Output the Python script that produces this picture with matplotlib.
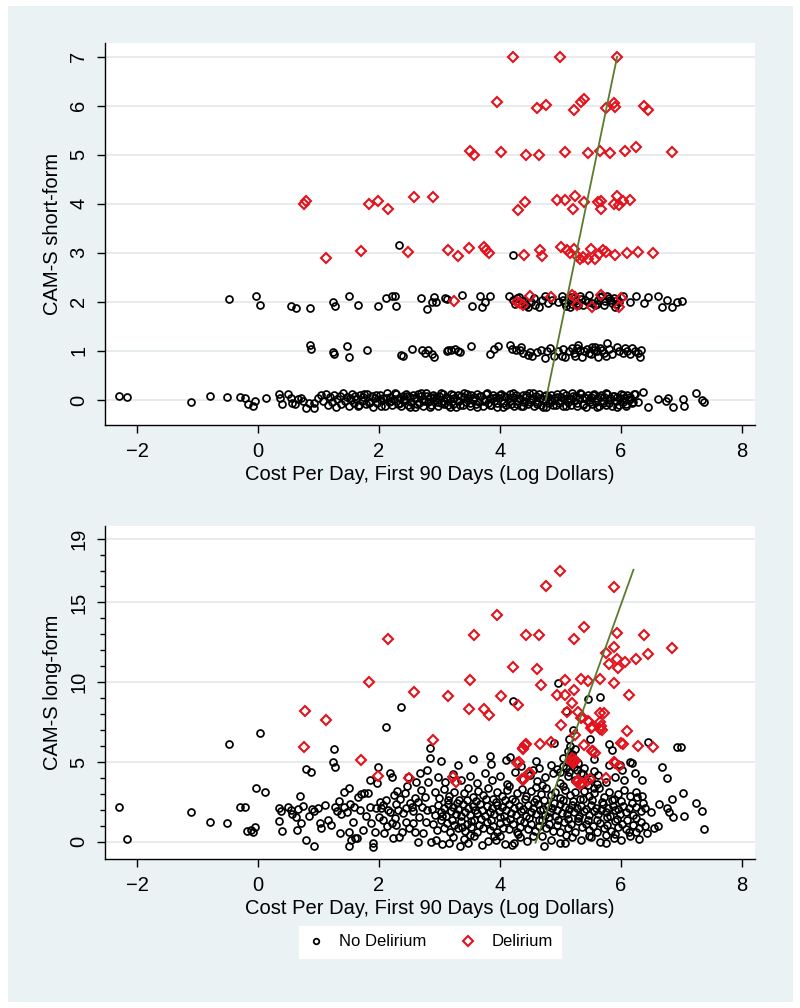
import numpy as np
import matplotlib.pyplot as plt
from matplotlib.lines import Line2D

plt.rcParams['font.family'] = ['Liberation Sans', 'DejaVu Sans']

BG = '#eaf2f3'
GRID = '#e4ebed'
RED = '#e3121c'
GREEN = '#5b7b2f'

# ---- top panel: CAM-S short-form, no delirium (x = log cost, y = jittered score)
top_nodel_row0 = [
    (-2.30, 0.08), (-2.16, 0.07), (-1.10, -0.05), (-0.79, 0.09), (-0.51, 0.07),
    (-0.30, 0.07), (-0.22, 0.05), (-0.17, -0.09), (-0.09, -0.12), (-0.05, -0.03),
    (0.13, 0.03), (0.34, 0.12), (0.37, 0.05), (0.39, -0.09), (0.50, 0.12),
    (0.54, 0.05), (0.56, -0.07), (0.62, -0.09), (0.66, 0.01), (0.71, 0.05),
    (0.74, -0.03), (0.80, -0.16), (0.85, -0.07), (0.92, -0.16), (0.93, -0.07),
    (0.99, 0.03), (1.04, 0.10), (1.08, -0.02), (1.12, 0.13), (1.15, -0.11),
    (1.19, 0.06), (1.22, -0.05), (1.26, 0.11), (1.29, -0.14), (1.31, 0.02),
    (1.35, 0.09), (1.38, -0.08), (1.41, 0.14), (1.44, -0.03), (1.47, 0.07),
    (1.50, -0.13), (1.52, 0.04), (1.56, 0.12), (1.59, -0.06), (1.62, 0.01),
    (1.66, -0.12), (1.69, 0.10), (1.72, -0.02), (1.74, 0.06), (1.78, -0.09),
    (1.81, 0.13), (1.85, -0.04), (1.88, 0.08), (1.91, -0.14), (1.93, 0.03),
    (1.97, -0.07), (2.01, 0.11), (2.04, -0.01), (2.06, 0.05), (2.10, -0.12),
    (2.13, 0.14), (2.16, -0.05), (2.19, 0.07), (2.22, -0.10), (2.25, 0.02),
    (2.28, 0.12), (2.31, -0.08), (2.33, 0.04), (2.37, -0.13), (2.40, 0.09),
    (2.42, -0.02), (2.45, 0.13), (2.48, -0.11), (2.51, 0.06), (2.53, -0.04),
    (2.56, 0.10), (2.59, -0.14), (2.62, 0.03), (2.64, 0.12), (2.67, -0.07),
    (2.70, 0.08), (2.73, -0.12), (2.75, 0.01), (2.78, 0.14), (2.81, -0.05),
    (2.84, 0.06), (2.86, -0.10), (2.89, 0.11), (2.92, -0.01), (2.95, 0.04),
    (2.97, -0.13), (3.00, 0.09), (3.03, -0.06), (3.06, 0.13), (3.08, -0.03),
    (3.11, 0.07), (3.14, -0.11), (3.17, 0.02), (3.19, 0.12), (3.22, -0.08),
    (3.25, 0.05), (3.28, -0.14), (3.30, 0.10), (3.33, -0.02), (3.36, 0.08),
    (3.39, -0.10), (3.41, 0.14), (3.44, -0.05), (3.47, 0.03), (3.50, -0.12),
    (3.52, 0.11), (3.55, -0.01), (3.58, 0.06), (3.61, -0.09), (3.63, 0.13),
    (3.66, -0.04), (3.69, 0.09), (3.72, -0.13), (3.74, 0.02), (3.77, 0.12),
    (3.80, -0.07), (3.83, 0.05), (3.85, -0.11), (3.88, 0.10), (3.91, -0.02),
    (3.94, 0.07), (3.96, -0.14), (3.99, 0.03), (4.02, 0.13), (4.05, -0.06),
    (4.07, 0.08), (4.10, -0.10), (4.13, 0.01), (4.16, 0.12), (4.18, -0.08),
    (4.21, 0.06), (4.24, -0.12), (4.27, 0.10), (4.29, -0.03), (4.32, 0.04),
    (4.35, -0.13), (4.38, 0.11), (4.40, -0.05), (4.43, 0.07), (4.46, -0.09),
    (4.49, 0.14), (4.51, -0.01), (4.54, 0.05), (4.57, -0.12), (4.60, 0.09),
    (4.62, -0.04), (4.65, 0.12), (4.68, -0.10), (4.71, 0.02), (4.73, 0.08),
    (4.76, -0.14), (4.79, 0.06), (4.82, -0.06), (4.84, 0.11), (4.87, -0.02),
    (4.90, 0.04), (4.93, -0.11), (4.95, 0.13), (4.98, -0.07), (5.01, 0.07),
    (5.04, -0.13), (5.06, 0.02), (5.09, 0.10), (5.12, -0.05), (5.15, 0.05),
    (5.17, -0.10), (5.20, 0.14), (5.23, -0.03), (5.26, 0.08), (5.28, -0.12),
    (5.31, 0.03), (5.34, 0.12), (5.37, -0.08), (5.39, 0.06), (5.42, -0.14),
    (5.45, 0.10), (5.48, -0.01), (5.50, 0.07), (5.53, -0.09), (5.56, 0.13),
    (5.59, -0.05), (5.61, 0.04), (5.64, -0.12), (5.67, 0.11), (5.70, -0.02),
    (5.72, 0.06), (5.75, -0.10), (5.78, 0.12), (5.81, -0.06), (5.83, 0.03),
    (5.86, -0.13), (5.89, 0.09), (5.92, -0.03), (5.94, 0.07), (5.97, -0.11),
    (6.00, 0.13), (6.03, -0.04), (6.05, 0.05), (6.08, -0.09), (6.11, 0.10),
    (6.14, -0.01), (6.16, 0.06), (6.19, -0.07), (6.22, 0.12), (6.24, 0.12),
    (6.28, -0.05), (6.37, 0.16), (6.45, -0.15), (6.62, 0.01), (6.74, -0.03),
    (6.78, 0.05), (6.86, -0.14), (7.03, 0.02), (7.04, -0.12), (7.25, 0.15),
    (7.35, 0.00), (7.38, -0.05),
    (1.54, -0.01), (1.60, 0.09), (1.67, -0.10), (1.76, 0.12), (1.83, -0.06),
    (1.95, 0.10), (2.03, -0.13), (2.12, 0.04), (2.20, -0.03), (2.27, 0.15),
    (2.35, -0.06), (2.41, 0.01), (2.47, 0.08), (2.52, -0.15), (2.58, 0.04),
    (2.63, -0.09), (2.69, 0.14), (2.74, -0.02), (2.80, 0.09), (2.85, -0.15),
    (2.91, 0.07), (2.96, -0.04), (3.02, 0.15), (3.07, -0.09), (3.12, 0.03),
    (3.18, -0.14), (3.23, 0.10), (3.29, 0.00), (3.34, -0.10), (3.40, 0.06),
    (3.45, 0.13), (3.51, -0.06), (3.56, 0.02), (3.62, -0.15), (3.67, 0.08),
    (3.73, -0.02), (3.78, 0.15), (3.84, -0.10), (3.89, 0.04), (3.95, -0.07),
    (4.00, 0.11), (4.06, -0.15), (4.11, 0.06), (4.17, -0.03), (4.22, 0.14),
    (4.28, -0.09), (4.33, 0.01), (4.39, -0.12), (4.44, 0.10), (4.50, -0.04),
    (4.55, 0.15), (4.61, -0.08), (4.66, 0.03), (4.72, -0.15), (4.77, 0.11),
    (4.83, 0.00), (4.88, -0.10), (4.94, 0.07), (4.99, -0.03), (5.05, 0.14),
    (5.10, -0.12), (5.16, 0.01), (5.21, 0.09), (5.27, -0.07), (5.32, 0.15),
    (5.38, -0.11), (5.43, 0.04), (5.49, -0.05), (5.54, 0.11), (5.60, -0.15),
    (5.65, 0.06), (5.71, -0.07), (5.76, 0.15), (5.82, -0.01), (5.87, 0.08),
    (5.93, -0.14), (5.98, 0.03), (6.04, 0.10), (6.09, -0.13), (6.15, 0.02),
    (6.20, -0.04),
]
top_nodel_row1 = [
    (0.86, 1.12), (0.88, 1.04), (1.24, 0.97), (1.26, 0.94), (1.48, 1.11),
    (1.50, 0.88), (1.80, 1.02), (2.37, 0.92), (2.40, 0.90), (2.54, 1.04),
    (2.72, 1.02), (2.76, 0.95), (2.82, 1.01), (2.87, 0.94), (2.91, 0.88),
    (3.13, 1.00), (3.15, 1.02), (3.19, 1.02), (3.26, 1.04), (3.31, 0.99),
    (3.34, 0.97), (3.53, 1.10), (3.83, 0.94), (3.91, 1.04), (3.97, 1.10),
    (4.16, 1.12), (4.20, 1.04), (4.26, 1.02), (4.33, 1.02), (4.35, 1.07),
    (4.39, 0.95), (4.47, 0.92), (4.50, 0.97), (4.54, 0.90), (4.61, 0.97),
    (4.68, 1.02), (4.74, 0.85), (4.78, 1.00), (4.83, 1.05), (4.89, 0.90),
    (4.97, 0.99), (5.02, 0.90), (5.05, 1.04), (5.08, 0.87), (5.14, 0.99),
    (5.19, 1.05), (5.22, 0.95), (5.25, 0.90), (5.27, 1.06), (5.30, 1.12),
    (5.33, 1.02), (5.36, 0.87), (5.40, 0.99), (5.44, 1.04), (5.47, 0.95),
    (5.50, 0.93), (5.52, 1.09), (5.55, 1.01), (5.57, 1.07), (5.60, 0.99),
    (5.63, 0.87), (5.66, 1.06), (5.69, 1.02), (5.72, 0.96), (5.75, 0.90),
    (5.77, 1.16), (5.80, 1.03), (5.86, 0.93), (5.94, 1.09), (5.97, 0.99),
    (6.03, 0.95), (6.07, 1.06), (6.10, 0.99), (6.15, 0.93), (6.19, 1.05),
    (6.24, 0.99), (6.29, 0.95), (6.32, 0.87), (6.34, 1.02),
]
top_nodel_row2 = [
    (-0.48, 2.05), (-0.03, 2.12), (0.04, 1.94), (0.55, 1.92), (0.63, 1.88),
    (0.86, 1.88), (1.24, 2.00), (1.28, 1.91), (1.51, 2.12), (1.66, 1.93),
    (1.98, 1.91), (2.11, 2.08), (2.21, 2.12), (2.26, 2.12), (2.28, 1.92),
    (2.69, 2.07), (2.79, 1.85), (2.87, 1.99), (2.91, 2.10), (2.95, 1.99),
    (3.10, 2.08), (3.13, 2.05), (3.38, 2.14), (3.54, 1.92), (3.68, 2.12),
    (3.70, 1.89), (3.76, 1.99), (3.84, 2.12), (4.15, 2.11), (4.21, 2.03),
    (4.25, 1.95), (4.28, 2.07), (4.32, 2.09), (4.36, 2.01), (4.40, 2.02),
    (4.42, 1.94), (4.44, 1.93), (4.47, 1.90), (4.52, 2.00), (4.56, 2.07),
    (4.58, 1.94), (4.64, 1.90), (4.69, 2.04), (4.75, 2.11), (4.80, 1.97),
    (4.86, 2.04), (4.97, 1.99), (5.02, 2.11), (5.05, 2.03), (5.08, 1.97),
    (5.10, 1.92), (5.14, 2.04), (5.16, 1.90), (5.18, 2.10), (5.20, 1.96),
    (5.22, 2.07), (5.24, 2.01), (5.27, 1.97), (5.30, 1.93), (5.33, 2.11),
    (5.35, 2.05), (5.38, 1.94), (5.41, 2.04), (5.45, 1.99), (5.48, 2.14),
    (5.52, 1.97), (5.58, 1.94), (5.60, 1.95), (5.63, 2.04), (5.66, 2.10),
    (5.69, 2.11), (5.72, 1.94), (5.74, 2.01), (5.78, 2.12), (5.80, 2.07),
    (5.83, 2.03), (5.85, 1.97), (5.88, 2.08), (5.91, 1.90), (5.92, 1.95),
    (5.94, 2.04), (5.97, 2.00), (6.03, 2.11), (6.16, 1.99), (6.26, 2.12),
    (6.38, 1.97), (6.45, 2.10), (6.62, 2.12), (6.68, 1.89), (6.77, 2.03),
    (6.85, 1.89), (6.93, 1.99), (7.01, 2.01),
]
top_nodel_row3 = [(2.34, 3.16), (4.21, 2.95)]

# ---- top panel: delirium
top_del = [
    (4.21, 6.99), (5.00, 6.99), (5.94, 7.00),
    (3.95, 6.08), (4.62, 5.95), (4.77, 6.02), (5.22, 5.92), (5.34, 6.08),
    (5.40, 6.14), (5.75, 5.96), (5.89, 6.06), (5.90, 5.98), (6.39, 6.00),
    (6.45, 5.92),
    (3.51, 5.07), (3.57, 4.99), (4.02, 5.05), (4.43, 4.99), (4.65, 4.99),
    (5.08, 5.06), (5.46, 5.03), (5.66, 5.07), (5.82, 5.04), (6.07, 5.08),
    (6.25, 5.15), (6.85, 5.05),
    (0.76, 4.00), (0.80, 4.06), (1.84, 4.00), (1.99, 4.06), (2.15, 3.90),
    (2.58, 4.13), (2.90, 4.13), (4.30, 3.88), (4.41, 4.03), (4.95, 4.07),
    (5.07, 4.07), (5.24, 4.15), (5.21, 3.89), (5.40, 4.03), (5.63, 4.03),
    (5.68, 4.06), (5.67, 3.90), (5.89, 4.00), (5.94, 4.15), (5.97, 3.97),
    (6.03, 4.06), (6.15, 4.08),
    (1.12, 2.89), (1.70, 3.04), (2.48, 3.01), (3.14, 3.05), (3.31, 2.94),
    (3.49, 3.10), (3.73, 3.12), (3.77, 3.05), (3.82, 2.99), (4.40, 2.95),
    (4.66, 3.06), (4.69, 2.94), (5.01, 3.12), (5.11, 3.06), (5.16, 2.99),
    (5.22, 3.07), (5.27, 2.94), (5.33, 2.88), (5.38, 2.92), (5.45, 2.87),
    (5.51, 3.07), (5.57, 2.88), (5.64, 2.98), (5.70, 3.05), (5.75, 3.01),
    (5.90, 2.96), (6.10, 2.99), (6.28, 3.01), (6.53, 2.99),
    (3.24, 2.01), (4.28, 2.00), (4.33, 1.97), (4.39, 1.94), (4.50, 2.12),
    (4.84, 2.10), (5.19, 2.15), (5.28, 1.93), (5.25, 2.09), (5.53, 1.90),
    (5.67, 2.14), (6.00, 2.08), (5.97, 1.90),
]
top_fit_x = [4.76, 5.94]
top_fit_y = [0.0, 7.0]

# ---- bottom panel: CAM-S long-form, no delirium
bot_nodel = [
    (-2.30, 2.21), (-2.16, 0.17), (-1.10, 1.86), (-0.79, 1.25), (-0.51, 1.21),
    (-0.48, 6.16), (-0.30, 2.21), (-0.22, 2.17), (-0.18, 0.71), (-0.12, 0.75),
    (-0.08, 0.65), (-0.05, 0.96), (-0.03, 3.38), (0.04, 6.85), (0.12, 3.13),
    (0.34, 2.15), (0.38, 1.94), (0.35, 1.32), (0.39, 0.71), (0.50, 2.17),
    (0.54, 2.00), (0.56, 1.73), (0.63, 1.59), (0.66, 2.05), (0.71, 1.19),
    (0.74, 2.26), (0.65, 0.73), (0.70, 2.88), (0.80, 4.55), (0.87, 4.37),
    (0.79, 0.10), (0.92, -0.27), (0.85, 1.65), (0.89, 2.05), (0.93, 1.94),
    (0.99, 2.15), (1.03, 1.17), (1.04, 0.86), (1.11, 2.32), (1.16, 1.38),
    (1.21, 1.07), (1.25, 5.83), (1.24, 4.99), (1.28, 4.72), (1.27, 2.21),
    (1.30, 1.94), (1.35, 0.58), (1.34, 2.59), (1.38, 1.75), (1.42, 3.15),
    (1.43, 2.17), (1.48, 1.90), (1.50, 0.61), (1.51, 3.36), (1.53, 2.38),
    (1.54, 0.13), (1.51, -0.25), (1.57, 1.27), (1.60, 0.23), (1.63, 0.23),
    (1.58, 2.17), (1.65, 2.84), (1.68, 2.00), (1.74, 0.75), (1.71, 3.01),
    (1.76, 3.09), (1.82, 3.05), (1.79, 1.65), (1.85, 2.21), (1.86, 3.88),
    (1.87, 1.17), (1.91, -0.08), (1.90, -0.29), (1.93, 0.65), (1.95, 2.11),
    (1.97, 3.72), (1.98, 4.72), (2.00, 1.55), (2.02, 2.50), (2.03, 2.15),
    (2.06, 1.38), (2.07, 2.32), (2.11, 7.23), (2.09, 0.58), (2.12, 2.60),
    (2.14, 1.00), (2.15, 2.00), (2.18, 4.30), (2.19, 1.85), (2.21, 4.09),
    (2.22, 1.17), (2.23, 0.23), (2.25, 2.94), (2.26, 1.48), (2.28, 1.05),
    (2.29, 2.38), (2.30, 3.20), (2.32, 2.00), (2.34, 0.33), (2.35, 2.70),
    (2.36, 8.48), (2.39, 0.65), (2.40, 1.80), (2.43, 3.05), (2.44, 2.15),
    (2.45, 1.27), (2.47, 3.50), (2.48, 4.09), (2.50, 0.90), (2.51, 2.42),
    (2.54, 2.21), (2.56, 1.95), (2.57, 1.17), (2.59, 0.65), (2.60, 2.75),
    (2.62, 3.78), (2.64, 0.02), (2.65, 2.53), (2.67, 1.55), (2.68, 4.30),
    (2.70, 3.26), (2.72, 2.20), (2.73, 0.54), (2.76, 2.84), (2.78, 1.25),
    (2.79, 4.51), (2.80, 2.00), (2.81, 3.78), (2.84, 5.24), (2.84, 5.87),
    (2.86, 0.02),
    # level 0
    (2.95, 0.10), (3.05, -0.15), (3.16, -0.08), (3.22, 0.30), (3.34, -0.25),
    (3.40, 0.20), (3.48, -0.08), (3.58, 0.35), (3.71, -0.19), (3.80, 0.05),
    (3.93, 0.13), (4.00, 0.40), (4.08, -0.10), (4.20, -0.19), (4.24, -0.08),
    (4.33, 0.28), (4.45, 0.05), (4.55, 0.35), (4.73, -0.25), (4.85, 0.15),
    (4.99, -0.04), (5.08, -0.04), (5.20, 0.30), (5.35, 0.10), (5.48, 0.38),
    (5.65, 0.02), (5.76, -0.04), (5.76, 0.44), (5.88, 0.25), (6.00, 0.10),
    (6.15, 0.35), (6.30, 0.20), (3.50, 0.45), (3.90, 0.35), (4.30, 0.50),
    (4.70, 0.40), (5.10, 0.45), (5.50, 0.30), (5.90, 0.50), (6.25, 0.65),
    # level 1
    (2.90, 1.10), (2.96, 0.75), (3.02, 1.35), (3.08, 0.90), (3.12, 1.20),
    (3.18, 0.62), (3.24, 1.05), (3.30, 0.85), (3.36, 1.30), (3.42, 0.70),
    (3.46, 1.15), (3.52, 0.95), (3.57, 1.40), (3.62, 0.65), (3.66, 1.08),
    (3.72, 0.88), (3.78, 1.25), (3.84, 0.72), (3.88, 1.02), (3.95, 0.60),
    (4.00, 1.18), (4.05, 0.90), (4.10, 1.32), (4.15, 0.78), (4.22, 1.10),
    (4.28, 0.62), (4.34, 0.95), (4.40, 1.28), (4.46, 0.80), (4.52, 1.12),
    (4.58, 0.68), (4.64, 1.00), (4.70, 1.35), (4.76, 0.85), (4.82, 1.15),
    (4.88, 0.70), (4.94, 1.05), (5.00, 0.60), (5.06, 1.25), (5.12, 0.88),
    (5.18, 1.10), (5.24, 0.65), (5.30, 1.30), (5.36, 0.92), (5.42, 1.15),
    (5.48, 0.75), (5.54, 1.02), (5.60, 0.62), (5.66, 1.20), (5.72, 0.85),
    (5.78, 1.08), (5.84, 0.70), (5.90, 1.30), (5.96, 0.95), (6.02, 1.12),
    (6.08, 0.80), (6.14, 0.60), (6.20, 1.05), (6.30, 0.90), (6.40, 1.00),
    (6.55, 0.85), (6.62, 1.02), (6.43, 0.54),
    (3.05, 1.60), (3.21, 1.40), (3.37, 0.95), (3.53, 1.30), (3.69, 1.45),
    (3.85, 1.35), (4.01, 1.55), (4.17, 1.45), (4.33, 1.35), (4.49, 1.50),
    (4.65, 1.40), (4.81, 1.55), (4.97, 1.35), (5.13, 1.45), (5.29, 1.50),
    (5.45, 1.40), (5.61, 1.35), (5.77, 1.55), (5.93, 1.45), (6.10, 1.40),
    (6.26, 1.50), (6.34, 1.25),
    # level 2
    (2.88, 2.05), (2.93, 1.70), (2.98, 2.30), (3.03, 1.85), (3.07, 2.15),
    (3.11, 1.62), (3.15, 2.40), (3.19, 1.95), (3.23, 2.20), (3.27, 1.75),
    (3.31, 2.05), (3.35, 1.60), (3.39, 2.35), (3.43, 1.90), (3.47, 2.12),
    (3.51, 1.68), (3.55, 2.28), (3.59, 1.98), (3.63, 1.80), (3.67, 2.38),
    (3.71, 2.02), (3.75, 1.65), (3.79, 2.22), (3.83, 1.88), (3.87, 2.10),
    (3.91, 1.72), (3.95, 2.32), (3.99, 1.95), (4.03, 2.18), (4.07, 1.62),
    (4.11, 2.00), (4.15, 2.36), (4.19, 1.82), (4.23, 2.12), (4.27, 1.70),
    (4.31, 2.25), (4.35, 1.92), (4.39, 2.05), (4.43, 1.65), (4.47, 2.30),
    (4.51, 1.85), (4.55, 2.15), (4.59, 1.75), (4.63, 2.38), (4.67, 1.98),
    (4.71, 2.08), (4.75, 1.68), (4.79, 2.25), (4.83, 1.90), (4.87, 2.12),
    (4.91, 1.62), (4.95, 2.02), (4.99, 2.35), (5.03, 1.80), (5.07, 2.18),
    (5.11, 1.72), (5.15, 2.05), (5.19, 2.30), (5.23, 1.88), (5.27, 2.10),
    (5.31, 1.65), (5.35, 2.25), (5.39, 1.95), (5.43, 2.08), (5.47, 1.70),
    (5.51, 2.32), (5.55, 1.92), (5.59, 2.15), (5.63, 1.78), (5.67, 2.02),
    (5.71, 2.36), (5.75, 1.85), (5.79, 2.12), (5.83, 1.65), (5.87, 2.22),
    (5.91, 1.98), (5.95, 2.05), (5.99, 1.75), (6.04, 2.28), (6.09, 1.90),
    (6.14, 2.10), (6.20, 1.70), (6.26, 2.20), (6.33, 1.95), (6.40, 2.15),
    (6.50, 1.85), (6.36, 2.46), (6.63, 2.36), (6.77, 2.15), (6.80, 1.90),
    (6.86, 1.59), (7.04, 1.65), (7.35, 1.96), (7.25, 2.42), (7.38, 0.81),
    (3.14, 2.65), (3.29, 2.45), (3.45, 2.60), (3.61, 2.55), (3.77, 2.70),
    (3.93, 2.50), (4.09, 2.60), (4.25, 2.55), (4.41, 2.70), (4.57, 2.50),
    (4.73, 2.65), (4.89, 2.45), (5.05, 2.60), (5.21, 2.55), (5.37, 2.70),
    (5.53, 2.60), (5.69, 2.50), (5.85, 2.65), (6.01, 2.55), (6.18, 2.45),
    # level 3
    (2.92, 3.10), (3.00, 2.75), (3.08, 3.30), (3.16, 2.90), (3.24, 3.15),
    (3.32, 2.65), (3.40, 3.05), (3.48, 3.35), (3.56, 2.80), (3.64, 3.20),
    (3.72, 2.95), (3.80, 3.38), (3.88, 2.70), (3.96, 3.12), (4.04, 2.88),
    (4.12, 3.25), (4.20, 2.68), (4.28, 3.08), (4.36, 3.32), (4.44, 2.85),
    (4.52, 3.18), (4.60, 2.72), (4.68, 3.02), (4.76, 3.36), (4.84, 2.92),
    (4.92, 3.15), (5.00, 2.78), (5.08, 3.28), (5.16, 2.95), (5.24, 3.10),
    (5.32, 2.70), (5.40, 3.22), (5.48, 2.88), (5.56, 3.05), (5.64, 3.35),
    (5.72, 2.82), (5.80, 3.12), (5.88, 2.68), (5.96, 3.00), (6.05, 3.25),
    (6.15, 2.85), (6.25, 3.10), (6.27, 2.84), (6.35, 2.90), (6.85, 2.67),
    (7.03, 3.09), (4.15, 3.50), (4.60, 3.45), (5.05, 3.50), (5.55, 3.40),
    # level 4
    (2.97, 4.05), (3.10, 3.75), (3.22, 4.25), (3.35, 3.90), (3.50, 4.15),
    (3.62, 3.70), (3.75, 4.30), (3.87, 3.85), (4.00, 4.10), (4.12, 3.65),
    (4.25, 4.35), (4.38, 3.95), (4.50, 4.20), (4.62, 3.80), (4.75, 4.05),
    (4.88, 4.30), (5.00, 3.72), (5.12, 4.12), (5.25, 3.88), (5.38, 4.25),
    (5.45, 3.55), (5.50, 3.95), (5.60, 3.60), (5.62, 4.18), (5.75, 3.78),
    (5.90, 4.05), (6.05, 3.90), (6.24, 4.30), (6.35, 3.88), (6.77, 4.03),
    (4.70, 3.55),
    # level 5 and above
    (3.02, 5.05), (3.30, 4.80), (3.55, 5.20), (3.84, 5.41), (3.85, 4.90),
    (4.10, 5.15), (4.17, 5.35), (4.35, 4.75), (4.55, 4.50), (4.60, 5.10),
    (4.65, 4.60), (4.85, 4.85), (4.95, 4.55), (5.00, 4.35), (5.05, 4.75),
    (5.05, 5.25), (5.10, 4.60), (5.15, 4.40), (5.22, 4.70), (5.28, 4.50),
    (5.35, 4.30), (5.40, 4.65), (5.30, 4.95), (5.55, 4.45), (5.55, 5.20),
    (5.80, 4.80), (5.85, 5.76), (5.99, 4.82), (6.02, 4.51), (6.16, 5.03),
    (6.19, 4.93), (6.68, 4.68), (5.14, 5.30), (5.19, 5.50), (5.18, 5.40),
    (5.12, 5.70), (5.24, 5.80), (5.16, 6.00), (4.89, 6.18), (5.14, 6.43),
    (5.49, 6.45), (5.81, 6.14), (6.45, 6.27), (6.93, 5.97), (7.00, 5.97),
    (5.21, 7.02), (5.09, 8.21), (4.21, 8.85), (5.46, 8.94), (5.65, 9.06),
    (4.97, 9.98),
]

# ---- bottom panel: delirium
bot_del = [
    (5.00, 16.98), (4.76, 16.06), (5.89, 15.94), (3.95, 14.24), (3.57, 12.99),
    (4.43, 12.99), (4.65, 12.99), (5.22, 12.74), (5.39, 13.45), (5.94, 13.07),
    (6.38, 12.99), (6.85, 12.13), (5.89, 12.18), (5.75, 11.86), (5.81, 11.15),
    (5.94, 11.44), (5.96, 10.90), (6.07, 11.28), (6.26, 11.44), (6.45, 11.76),
    (4.21, 10.94), (4.62, 10.84), (3.51, 10.17), (5.08, 10.17), (5.34, 10.23),
    (5.46, 10.11), (5.66, 10.23), (5.89, 9.96), (4.68, 9.82), (2.58, 9.40),
    (3.14, 9.13), (4.02, 9.13), (4.95, 9.19), (5.07, 9.21), (5.23, 9.50),
    (6.14, 9.21), (3.49, 8.31), (3.73, 8.35), (3.82, 7.96), (4.30, 8.60),
    (5.20, 8.71), (5.11, 8.16), (5.30, 8.13), (5.34, 7.75), (5.46, 7.58),
    (5.52, 7.23), (5.65, 8.10), (5.72, 8.10), (5.65, 7.54), (5.67, 7.28),
    (5.66, 7.06), (5.01, 7.31), (6.10, 6.97), (5.25, 6.70), (5.40, 6.08),
    (2.90, 6.39), (4.41, 6.08), (4.38, 5.83), (4.66, 6.16), (4.84, 6.28),
    (5.52, 5.70), (5.57, 5.60), (6.00, 6.18), (6.03, 6.12), (6.28, 6.02),
    (6.53, 5.93), (5.19, 5.24), (5.22, 5.03), (5.25, 5.14), (5.17, 5.10),
    (5.21, 4.95), (4.28, 4.93), (4.32, 5.03), (5.88, 5.03), (5.97, 4.76),
    (2.49, 4.03), (3.23, 4.09), (3.28, 3.78), (4.38, 3.88), (4.50, 4.30),
    (5.27, 3.78), (5.36, 3.68), (5.44, 3.84), (5.49, 3.95), (5.75, 3.99),
    (5.32, 3.62), (5.30, 3.85), (0.78, 8.19), (1.12, 7.66), (0.76, 5.97),
    (1.83, 10.00), (1.70, 5.14), (1.98, 4.16), (2.15, 12.72), (5.36, 7.85),
    (5.47, 7.54), (5.51, 7.12), (5.69, 7.02), (5.54, 5.72), (4.39, 5.87),
    (4.43, 6.12), (4.49, 4.34), (4.37, 3.93), (5.91, 4.93),
]
bot_fit_x = [4.59, 6.21]
bot_fit_y = [-0.05, 17.05]

x_ticks = [-2, 0, 2, 4, 6, 8]
top_y_ticks = [0, 1, 2, 3, 4, 5, 6, 7]
bot_y_ticks = [0, 5, 10, 15, 19]
x_label = 'Cost Per Day, First 90 Days (Log Dollars)'


def style_axes(ax, yticks, ylim, ylabel):
    ax.set_facecolor('white')
    for side in ('top', 'right'):
        ax.spines[side].set_visible(False)
    for side in ('left', 'bottom'):
        ax.spines[side].set_linewidth(1.0)
    ax.set_xlim(-2.53, 8.22)
    ax.set_ylim(*ylim)
    ax.set_xticks(x_ticks)
    ax.set_yticks(yticks)
    ax.yaxis.grid(True, color=GRID, lw=1.3)
    ax.set_axisbelow(True)
    ax.tick_params(axis='both', which='major', length=6, width=1.0,
                   labelsize=14.5, pad=6)
    ax.tick_params(axis='y', labelrotation=90)
    for lab in ax.get_yticklabels():
        lab.set_va('center')
    ax.set_xlabel(x_label, fontsize=14.5, labelpad=3)
    ax.set_ylabel(ylabel, fontsize=14.5, labelpad=5)


def draw(ax, nodel, dele, fit_x, fit_y):
    nx, ny = np.array(nodel).T
    dx, dy = np.array(dele).T
    ax.plot(nx, ny, 'o', ms=5.0, mfc='none', mec='black', mew=1.25, zorder=3)
    ax.plot(dx, dy, 'D', ms=5.0, mfc='none', mec=RED, mew=1.5, zorder=4)
    ax.plot(fit_x, fit_y, '-', color=GREEN, lw=1.3, zorder=5)


fig = plt.figure(figsize=(8, 10.08), dpi=100)
fig.patch.set_facecolor('white')
fig.add_artist(plt.Rectangle((0.01, 0.006), 0.98125, 0.988,
                             transform=fig.transFigure, facecolor=BG,
                             edgecolor='none', zorder=0))

ax1 = fig.add_axes([0.13125, 0.5784, 0.8125, 0.3790])
ax2 = fig.add_axes([0.13125, 0.1478, 0.8125, 0.3307])

draw(ax1, top_nodel_row0 + top_nodel_row1 + top_nodel_row2 + top_nodel_row3,
     top_del, top_fit_x, top_fit_y)
style_axes(ax1, top_y_ticks, (-0.51, 7.28), 'CAM-S short-form')

draw(ax2, bot_nodel, bot_del, bot_fit_x, bot_fit_y)
style_axes(ax2, bot_y_ticks, (-1.07, 19.81), 'CAM-S long-form')
ax2.set_yticks(range(0, 20), minor=True)
ax2.tick_params(axis='y', which='minor', length=3.5, width=1.0)

handles = [
    Line2D([], [], ls='none', marker='o', ms=4.0, mfc='none', mec='black', mew=1.3),
    Line2D([], [], ls='none', marker='D', ms=5.0, mfc='none', mec=RED, mew=1.5),
]
fig.legend(handles, ['No Delirium', 'Delirium'], loc='center',
           bbox_to_anchor=(0.5375, 0.0655), ncol=2, fontsize=12,
           frameon=True, fancybox=False, facecolor='white', edgecolor='white',
           framealpha=1, handlelength=1.0, handletextpad=0.9,
           columnspacing=2.0, borderpad=0.5)

fig.savefig('out.png', dpi=100, facecolor=fig.get_facecolor())
